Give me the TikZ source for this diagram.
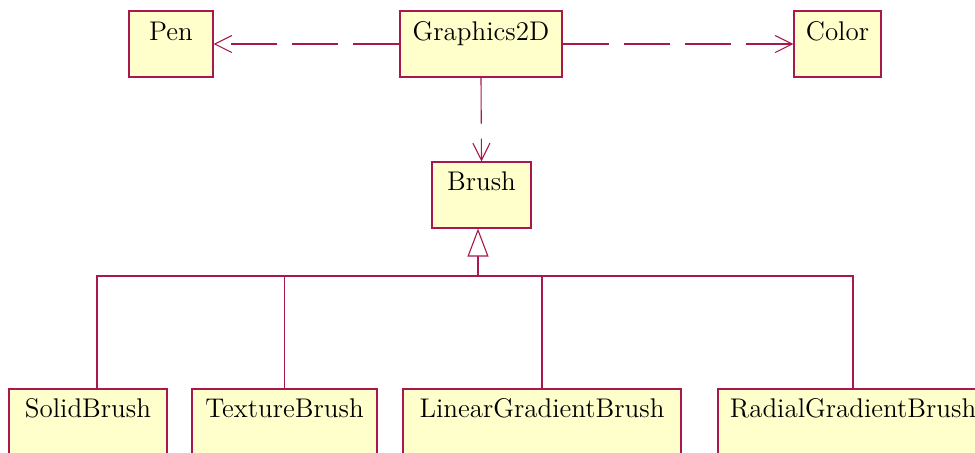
\documentclass[tikz,border=0pt]{standalone}
\usetikzlibrary{arrows.meta}
\definecolor{umlline}{RGB}{168,24,78}
\definecolor{umlfill}{RGB}{255,255,204}
\tikzset{
  cls/.style={draw=umlline, fill=umlfill, line width=0.55pt, inner sep=0pt, anchor=center},
  lbl/.style={anchor=base, inner sep=0pt, font=\fontsize{13.5}{16}\selectfont},
  dep/.style={draw=umlline, line width=0.55pt, dash pattern=on 23pt off 7.5pt, -{Straight Barb[length=8.5pt,width=8.5pt]}},
  gen/.style={draw=umlline, line width=0.55pt},
  genhead/.style={draw=umlline, line width=0.55pt, -{Triangle[open,length=14pt,width=10.5pt,fill=white]}}
}
\begin{document}
\begin{tikzpicture}[x=0.5pt,y=-0.5pt]
\useasboundingbox (0,0) rectangle (975,452);
\clip (0,0) rectangle (975,452);
% top row
\node[cls, minimum width=42pt, minimum height=33pt] (pen) at (171,44) {};
\node[lbl] (penl) at ([yshift=-14.8pt]pen.north) {Pen};
\node[cls, minimum width=81pt, minimum height=33pt] (g2d) at (481,44) {};
\node[lbl] (g2dl) at ([yshift=-14.8pt]g2d.north) {Graphics2D};
\node[cls, minimum width=43.5pt, minimum height=33pt] (color) at (837.5,44) {};
\node[lbl] (colorl) at ([yshift=-14.8pt]color.north) {Color};
% Brush
\node[cls, minimum width=49.5pt, minimum height=33pt] (brush) at (481.5,195) {};
\node[lbl] (brushl) at ([yshift=-14.5pt]brush.north) {Brush};
% bottom row
\node[cls, minimum width=79pt, minimum height=33pt] (solid) at (88,422) {};
\node[lbl] (solidl) at ([yshift=-14.3pt]solid.north) {SolidBrush};
\node[cls, minimum width=92.5pt, minimum height=33pt] (texture) at (284.5,422) {};
\node[lbl] (texturel) at ([yshift=-14.3pt]texture.north) {TextureBrush};
\node[cls, minimum width=139pt, minimum height=33pt] (linear) at (542,422) {};
\node[lbl] (linearl) at ([yshift=-14.3pt]linear.north) {LinearGradientBrush};
\node[cls, minimum width=135pt, minimum height=33pt] (radial) at (853,422) {};
\node[lbl] (radiall) at ([yshift=-14.3pt]radial.north) {RadialGradientBrush};
% dependencies
\draw[dep] (g2d.west) -- (pen.east);
\draw[dep] (g2d.east) -- (color.west);
\draw[dep] (g2d.south) -- (brush.north);
% generalization
\coordinate (bus) at (478,276);
\draw[genhead] (bus) -- (bus |- brush.south);
\draw[gen] ([xshift=4.5pt]solid.north) |- (bus);
\draw[gen] (texture.north) |- (bus);
\draw[gen] (linear.north) |- (bus);
\draw[gen] (radial.north) |- (bus);
\end{tikzpicture}
\end{document}
